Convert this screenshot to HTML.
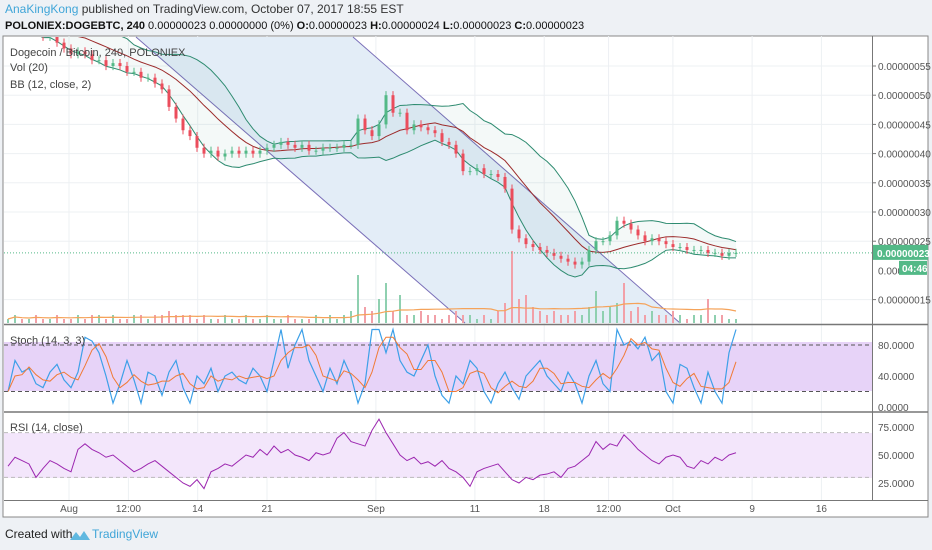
<!DOCTYPE html>
<html><head><meta charset="utf-8">
<style>
html,body{margin:0;padding:0;background:#eef1f5;}
svg{display:block;font-family:"Liberation Sans",sans-serif;}
</style></head>
<body>
<svg id="c" width="932" height="550" viewBox="0 0 932 550">
<defs><clipPath id="mainclip"><rect x="4" y="37" width="868" height="287"/></clipPath></defs>
<rect x="0" y="0" width="932" height="550" fill="#eef1f5"/>
<text x="5" y="13" font-size="12" fill="#333"><tspan fill="#3fa5d8">AnaKingKong</tspan> published on TradingView.com, October 07, 2017 18:55 EST</text>
<text x="5" y="29" font-size="11" fill="#111"><tspan font-weight="bold">POLONIEX:DOGEBTC, 240</tspan> 0.00000023 0.00000000 (0%) <tspan font-weight="bold">O:</tspan>0.00000023 <tspan font-weight="bold">H:</tspan>0.00000024 <tspan font-weight="bold">L:</tspan>0.00000023 <tspan font-weight="bold">C:</tspan>0.00000023</text>
<rect x="3" y="36" width="925" height="481" fill="#fff" stroke="#888" stroke-width="1"/>
<g id="grid"></g>
<polygon points="136,37 353,37 680,323 465,323" fill="#e3edf7"/>
<line x1="136" y1="37" x2="465" y2="323" stroke="#7a6fb8" stroke-width="1"/>
<line x1="353" y1="37" x2="680" y2="323" stroke="#7a6fb8" stroke-width="1"/>
<rect x="4" y="342" width="868" height="49" fill="#e7d3f8"/>
<rect x="4" y="433" width="868" height="45" fill="#f3e6fb"/>
<g id="mainplot" clip-path="url(#mainclip)"></g>
<g id="plot"></g>
<line x1="4" y1="324.5" x2="928" y2="324.5" stroke="#777" stroke-width="1.5"/>
<line x1="4" y1="412" x2="928" y2="412" stroke="#777" stroke-width="1.5"/>
<line x1="4" y1="500.5" x2="928" y2="500.5" stroke="#777" stroke-width="1"/>
<line x1="872.5" y1="36" x2="872.5" y2="500" stroke="#777" stroke-width="1"/>
<g id="axes"></g>
<text x="10" y="56" font-size="11" fill="#444">Dogecoin / Bitcoin, 240, POLONIEX</text>
<text x="10" y="71" font-size="11" fill="#444">Vol (20)</text>
<text x="10" y="88" font-size="11" fill="#444">BB (12, close, 2)</text>
<text x="10" y="344" font-size="11" fill="#444">Stoch (14, 3, 3)</text>
<text x="10" y="431" font-size="11" fill="#444">RSI (14, close)</text>
<text x="5" y="538" font-size="12" fill="#222">Created with</text>
<path d="M70 540 l6 -8 l4 5 l4 -6 l6 9 z" fill="#5fb8e0"/>
<text x="92" y="538" font-size="12" fill="#3fa5d8">TradingView</text>
</svg>
<script>
const closes=[62,62,61,62,61,60,61,59,58,57,57.5,57,56,56,55,55.5,55,54,54,53,53,52,51,48,46,44,43,41,40,40.5,39.5,40,40.5,40,40.5,40,40.5,41,41.5,42,41.5,41,41.5,40.5,40.5,41,41,41,41.5,41.5,46,44,43,45,50,47,47,44,45,44.5,44,43.5,42,41.5,40,37,37,37.5,36.5,36.5,36,34,27,25.5,24.5,24,23.5,23,22.5,22,21.5,21,21.5,23.5,25,25,26,28.5,28,27,26,25,25.5,25,24.5,24,24,23.5,23.5,23.5,23,23,22.5,23,23];
const volumes=[1,2,1,1,2,1,1,2,1,1,2,1,2,2,1,2,1,1,2,2,1,2,2,3,2,2,2,1,2,1,1,2,1,1,2,1,1,2,1,1,2,1,1,1,2,1,2,1,2,3,12,4,3,6,10,3,7,2,2,3,2,2,1,2,3,2,2,1,2,1,3,5,18,6,7,4,3,2,3,2,2,3,2,4,8,3,4,5,10,3,4,2,3,2,2,3,2,1,2,2,6,2,2,1,1];
const stochK=[20,60,45,50,30,25,45,55,35,25,45,90,85,70,40,5,30,60,35,5,45,40,15,45,60,25,5,40,30,50,20,40,45,35,30,50,40,20,60,100,50,80,100,60,40,20,50,30,60,40,5,30,100,100,70,100,60,45,40,60,80,40,15,5,40,30,60,50,20,5,30,45,25,10,40,50,60,40,30,20,45,30,5,40,60,30,20,100,80,85,75,90,60,70,20,5,55,50,25,5,45,20,5,70,100];
const rsiVals=[40,48,45,42,30,38,45,42,38,35,55,60,55,52,48,50,45,40,35,38,42,45,40,35,30,25,22,28,20,35,38,42,40,45,50,48,55,50,58,52,55,50,48,45,52,50,52,65,70,62,60,58,72,82,70,60,50,45,48,42,44,40,45,38,35,30,22,35,38,40,42,35,28,25,30,28,32,33,35,30,38,40,45,50,62,55,60,58,68,62,55,50,45,42,48,50,48,40,38,45,42,48,45,50,52];
const priceTicks=[55,50,45,40,35,30,25,15];
const stochTicks=[80,40,0];
const rsiTicks=[75,50,25];
const timeLabels=["Aug","12:00","14","21","Sep","11","18","12:00","Oct","9","16"];
const timeDays=[0,6,13,20,31,41,48,54.5,61,69,76];

const NS="http://www.w3.org/2000/svg";
const plot=document.getElementById('plot'),mp=document.getElementById('mainplot'),grid=document.getElementById('grid'),axes=document.getElementById('axes');
function mk(tag,attrs,parent){const e=document.createElementNS(NS,tag);for(const k in attrs)e.setAttribute(k,attrs[k]);parent.appendChild(e);return e;}
const xi=i=>8+i*7;
const yP=p=>66+(55-p)*5.84;
const yS=v=>407-v*0.775;
const yR=v=>455-(v-50)*1.12;
const xD=d=>69+d*9.9;
const fmt=p=>"0.000000"+String(p).padStart(2,"0");

priceTicks.forEach(t=>{const l=mk('line',{x1:4,x2:872,y1:yP(t),y2:yP(t),stroke:'#edf0f3'},grid);

});
timeDays.forEach(d=>{const l=mk('line',{x1:xD(d),x2:xD(d),y1:36,y2:500,stroke:'#edf0f3'},grid);

});

const vmax=Math.max(...volumes);
volumes.forEach((v,i)=>{const h=v/vmax*72;const up=i==0||closes[i]>=closes[i-1];
const r=mk('rect',{x:xi(i)-1,y:323-h,width:2,height:h,fill:up?'#8fd0b0':'#f2a0a8'},mp);

});
let vpts=[];volumes.forEach((v,i)=>{const s=volumes.slice(Math.max(0,i-19),i+1);const m=s.reduce((a,b)=>a+b,0)/s.length;vpts.push(xi(i)+','+(323-m/vmax*72));});
const vma=mk('polyline',{points:vpts.join(' '),fill:'none',stroke:'#f5a35a','stroke-width':1.2},mp);



let up=[],lo=[],mid=[];
closes.forEach((c,i)=>{const s=closes.slice(Math.max(0,i-11),i+1);const m=s.reduce((a,b)=>a+b,0)/s.length;const sd=Math.sqrt(s.reduce((a,b)=>a+(b-m)*(b-m),0)/s.length);
up.push(xi(i)+','+yP(m+1.3*sd+0.5));lo.push(xi(i)+','+yP(m-1.3*sd-0.5));mid.push(xi(i)+','+yP(m));});
const bbf=mk('polygon',{points:up.concat(lo.slice().reverse()).join(' '),fill:'#2e8b70','fill-opacity':0.05},mp);


const bbu=mk('polyline',{points:up.join(' '),fill:'none',stroke:'#2e8b70','stroke-width':1},mp);


const bbl=mk('polyline',{points:lo.join(' '),fill:'none',stroke:'#2e8b70','stroke-width':1},mp);


const bbm=mk('polyline',{points:mid.join(' '),fill:'none',stroke:'#9c2b2b','stroke-width':1},mp);



closes.forEach((c,i)=>{const o=i==0?c:closes[i-1];const upc=c>=o;const col=upc?'#53b987':'#eb4d5c';
const hi=Math.max(o,c)+0.7,lw=Math.min(o,c)-0.7;
const w=mk('line',{x1:xi(i),x2:xi(i),y1:yP(hi),y2:yP(lw),stroke:col},mp);


const y1=yP(Math.max(o,c)),y2=yP(Math.min(o,c));
const b=mk('rect',{x:xi(i)-1.5,y:y1,width:3,height:Math.max(1,y2-y1),fill:col},mp);

});

const last=closes[closes.length-1];
const cp=mk('line',{x1:4,x2:872,y1:yP(last),y2:yP(last),stroke:'#53b987','stroke-dasharray':'1,2'},mp);



let kp=[],dp=[];stochK.forEach((v,i)=>{kp.push(xi(i)+','+yS(v));const s=stochK.slice(Math.max(0,i-2),i+1);dp.push(xi(i)+','+yS(s.reduce((a,b)=>a+b,0)/s.length));});
[[80,'stoch-upper-level'],[20,'stoch-lower-level']].forEach(([v,n])=>{const l=mk('line',{x1:4,x2:872,y1:yS(v),y2:yS(v),stroke:'#555','stroke-dasharray':'4,3'},plot);

});
const sk=mk('polyline',{points:kp.join(' '),fill:'none',stroke:'#3da0e8','stroke-width':1.2},plot);


const sd=mk('polyline',{points:dp.join(' '),fill:'none',stroke:'#f07a35','stroke-width':1},plot);



[[70,'rsi-upper-level'],[30,'rsi-lower-level']].forEach(([v,n])=>{const l=mk('line',{x1:4,x2:872,y1:yR(v),y2:yR(v),stroke:'#bbb','stroke-dasharray':'4,3'},plot);

});
const rl=mk('polyline',{points:rsiVals.map((v,i)=>xi(i)+','+yR(v)).join(' '),fill:'none',stroke:'#9c27b0','stroke-width':1},plot);



priceTicks.forEach(t=>{const tk=mk('line',{x1:872,x2:876,y1:yP(t),y2:yP(t),stroke:'#777'},axes);


const tx=mk('text',{x:878,y:yP(t)+4,'font-size':10,fill:'#555'},axes);tx.textContent=fmt(t);

});
const pt=mk('text',{x:878,y:yP(20)+4,'font-size':10,fill:'#555'},axes);pt.textContent='0.000';


const pb=mk('rect',{x:873,y:yP(last)-8,width:55,height:15,fill:'#53b987'},axes);


const pbt=mk('text',{x:877,y:yP(last)+4,'font-size':10,fill:'#fff','font-weight':'bold'},axes);pbt.textContent=fmt(last);


const cb=mk('rect',{x:899,y:yP(last)+8,width:28,height:14,fill:'#53b987'},axes);


const cbt=mk('text',{x:902,y:yP(last)+19,'font-size':10,fill:'#fff','font-weight':'bold'},axes);cbt.textContent='04:46';


stochTicks.forEach(t=>{const tx=mk('text',{x:878,y:yS(t)+4,'font-size':10,fill:'#555'},axes);tx.textContent=t.toFixed(4);

});
rsiTicks.forEach(t=>{const tx=mk('text',{x:878,y:yR(t)+4,'font-size':10,fill:'#555'},axes);tx.textContent=t.toFixed(4);

});
timeLabels.forEach((s,i)=>{const tx=mk('text',{x:xD(timeDays[i]),y:512,'font-size':10,fill:'#555','text-anchor':'middle'},axes);tx.textContent=s;

});
</script>
</body></html>
